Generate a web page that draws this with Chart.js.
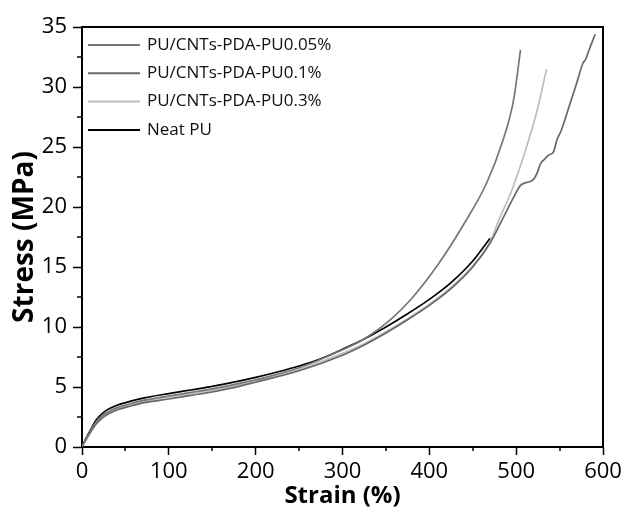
<!DOCTYPE html>
<html>
<head>
<meta charset="utf-8">
<script src="https://cdn.jsdelivr.net/npm/chart.js@4.4.1/dist/chart.umd.min.js"></script>
<style>
  html, body { margin: 0; padding: 0; background: #fff; }
  canvas { display: block; }
</style>
</head>
<body>
<canvas id="stress-strain" width="630" height="511"></canvas>
<script>
// tensile curves, strain in %, stress in MPa
const neatStrain = [0, 3, 7, 10, 15, 20, 26, 33, 41, 55, 72, 100, 125, 150, 175, 200, 225, 250, 275, 300, 325, 350, 375, 400, 425, 450, 470];
const neatStress = [0, 0.5, 1.05, 1.45, 2.1, 2.55, 2.95, 3.25, 3.5, 3.8, 4.1, 4.45, 4.75, 5.05, 5.4, 5.8, 6.25, 6.75, 7.35, 8.15, 9.0, 10.0, 11.1, 12.3, 13.7, 15.5, 17.4];

const pu005Strain = [0, 3, 7, 10, 15, 20, 26, 33, 41, 55, 72, 100, 125, 150, 175, 200, 250, 300, 325, 355, 380, 410, 440, 466, 485, 497, 505];
const pu005Stress = [0, 0.45, 0.95, 1.35, 1.95, 2.4, 2.75, 3.05, 3.3, 3.6, 3.9, 4.25, 4.55, 4.85, 5.2, 5.6, 6.6, 8.1, 9.0, 10.6, 12.4, 15.2, 18.6, 22.0, 25.6, 28.9, 33.1];

const pu01Strain = [0, 3, 7, 10, 15, 20, 26, 33, 41, 55, 72, 100, 125, 150, 175, 200, 250, 300, 325, 350, 375, 400, 425, 450, 470, 485, 497, 505, 510, 515, 520, 524, 528, 533, 537, 543, 547, 552, 562, 570, 577, 580, 583, 591];
const pu01Stress = [0, 0.4, 0.9, 1.25, 1.8, 2.2, 2.55, 2.85, 3.1, 3.4, 3.7, 4.0, 4.3, 4.6, 4.95, 5.4, 6.35, 7.65, 8.5, 9.5, 10.6, 11.8, 13.2, 15.0, 17.0, 19.1, 20.8, 21.8, 22.0, 22.1, 22.3, 22.8, 23.6, 24.0, 24.3, 24.6, 25.6, 26.4, 28.6, 30.4, 32.0, 32.3, 32.9, 34.4];

const pu03Strain = [0, 3, 7, 10, 15, 20, 26, 33, 41, 55, 72, 100, 125, 150, 175, 200, 250, 300, 325, 350, 375, 400, 425, 450, 470, 480, 495, 508, 524, 535];
const pu03Stress = [0, 0.45, 0.95, 1.3, 1.9, 2.3, 2.65, 2.95, 3.2, 3.5, 3.8, 4.15, 4.45, 4.75, 5.1, 5.5, 6.45, 7.8, 8.6, 9.6, 10.7, 11.9, 13.3, 15.1, 17.1, 18.9, 21.4, 24.1, 28.0, 31.5];

const seriesLabels = ["PU/CNTs-PDA-PU0.05%", "PU/CNTs-PDA-PU0.1%", "PU/CNTs-PDA-PU0.3%", "Neat PU"];

const xMajorTicks = [0, 100, 200, 300, 400, 500, 600];
const yMajorTicks = [0, 5, 10, 15, 20, 25, 30, 35];

const FONT = "'Open Sans', 'Noto Sans', sans-serif";

function toPoints(xs, ys) {
  return xs.map((x, i) => ({ x, y: ys[i] }));
}

// minor ticks halfway between labels + closing frame on top/right
const framePlugin = {
  id: "frameAndMinorTicks",
  afterDraw(chart) {
    const { ctx, chartArea, scales } = chart;
    const { x, y } = scales;
    ctx.save();
    ctx.strokeStyle = "#000";
    ctx.lineWidth = 2;

    ctx.beginPath();
    ctx.moveTo(chartArea.left - 1, chartArea.top);
    ctx.lineTo(chartArea.right, chartArea.top);
    ctx.lineTo(chartArea.right, chartArea.bottom + 1);
    ctx.stroke();

    ctx.lineWidth = 1.5;
    ctx.beginPath();
    for (let i = 0; i < xMajorTicks.length - 1; i++) {
      const v = (xMajorTicks[i] + xMajorTicks[i + 1]) / 2;
      const px = Math.round(x.getPixelForValue(v));
      ctx.moveTo(px, chartArea.bottom);
      ctx.lineTo(px, chartArea.bottom + 4);
    }
    for (let i = 0; i < yMajorTicks.length - 1; i++) {
      const v = (yMajorTicks[i] + yMajorTicks[i + 1]) / 2;
      const py = Math.round(y.getPixelForValue(v));
      ctx.moveTo(chartArea.left, py);
      ctx.lineTo(chartArea.left - 5, py);
    }
    ctx.stroke();
    ctx.restore();
  },
};

// legend drawn inside the plot, top-left
const innerLegend = {
  id: "innerLegend",
  afterDraw(chart) {
    const { ctx, chartArea } = chart;
    const x0 = chartArea.left + 6;
    const lineLen = 52;
    let yRow = chartArea.top + 18;
    ctx.save();
    ctx.font = "17px " + FONT;
    ctx.textBaseline = "middle";
    ctx.fillStyle = "#111";
    chart.data.datasets.forEach((ds) => {
      ctx.strokeStyle = ds.borderColor;
      ctx.lineWidth = 2;
      ctx.beginPath();
      ctx.moveTo(x0, yRow);
      ctx.lineTo(x0 + lineLen, yRow);
      ctx.stroke();
      ctx.fillText(ds.label, x0 + lineLen + 7, yRow);
      yRow += 28.3;
    });
    ctx.restore();
  },
};

const lineDefaults = {
  borderWidth: 1.7,
  pointRadius: 0,
  fill: false,
  cubicInterpolationMode: "monotone",
};

new Chart(document.getElementById("stress-strain"), {
  type: "line",
  data: {
    datasets: [
      { ...lineDefaults, label: seriesLabels[0], data: toPoints(pu005Strain, pu005Stress), borderColor: "#767676" },
      { ...lineDefaults, label: seriesLabels[1], data: toPoints(pu01Strain, pu01Stress), borderColor: "#686868" },
      { ...lineDefaults, label: seriesLabels[2], data: toPoints(pu03Strain, pu03Stress), borderColor: "#bdbdbd" },
      { ...lineDefaults, label: seriesLabels[3], data: toPoints(neatStrain, neatStress), borderColor: "#000000" },
    ],
  },
  options: {
    responsive: false,
    animation: false,
    devicePixelRatio: 1,
    layout: { padding: { top: 27, right: 27, left: 0, bottom: 0 } },
    plugins: {
      legend: { display: false },
      tooltip: { enabled: false },
    },
    scales: {
      x: {
        type: "linear",
        min: 0,
        max: 600,
        afterFit: (scale) => { scale.height = 64; },
        afterBuildTicks: (scale) => { scale.ticks = xMajorTicks.map((v) => ({ value: v })); },
        ticks: { color: "#000", font: { family: FONT, size: 22 }, padding: 4, maxRotation: 0 },
        grid: { drawOnChartArea: false, drawTicks: true, tickLength: 8, tickColor: "#000", tickWidth: 1.5 },
        border: { display: true, color: "#000", width: 2 },
        title: {
          display: true,
          text: "Strain (%)",
          color: "#000",
          font: { family: FONT, size: 24, weight: "bold" },
          padding: { top: 0, bottom: 0 },
        },
      },
      y: {
        min: 0,
        max: 35,
        afterFit: (scale) => { scale.width = 82; },
        afterBuildTicks: (scale) => { scale.ticks = yMajorTicks.map((v) => ({ value: v })); },
        ticks: { color: "#000", font: { family: FONT, size: 22 }, padding: 6 },
        grid: { drawOnChartArea: false, drawTicks: true, tickLength: 9, tickColor: "#000", tickWidth: 1.5 },
        border: { display: true, color: "#000", width: 2 },
        title: {
          display: true,
          text: "Stress (MPa)",
          color: "#000",
          font: { family: FONT, size: 28, weight: "bold" },
          padding: { top: 8, bottom: 0 },
        },
      },
    },
  },
  plugins: [framePlugin, innerLegend],
});
</script>
</body>
</html>
